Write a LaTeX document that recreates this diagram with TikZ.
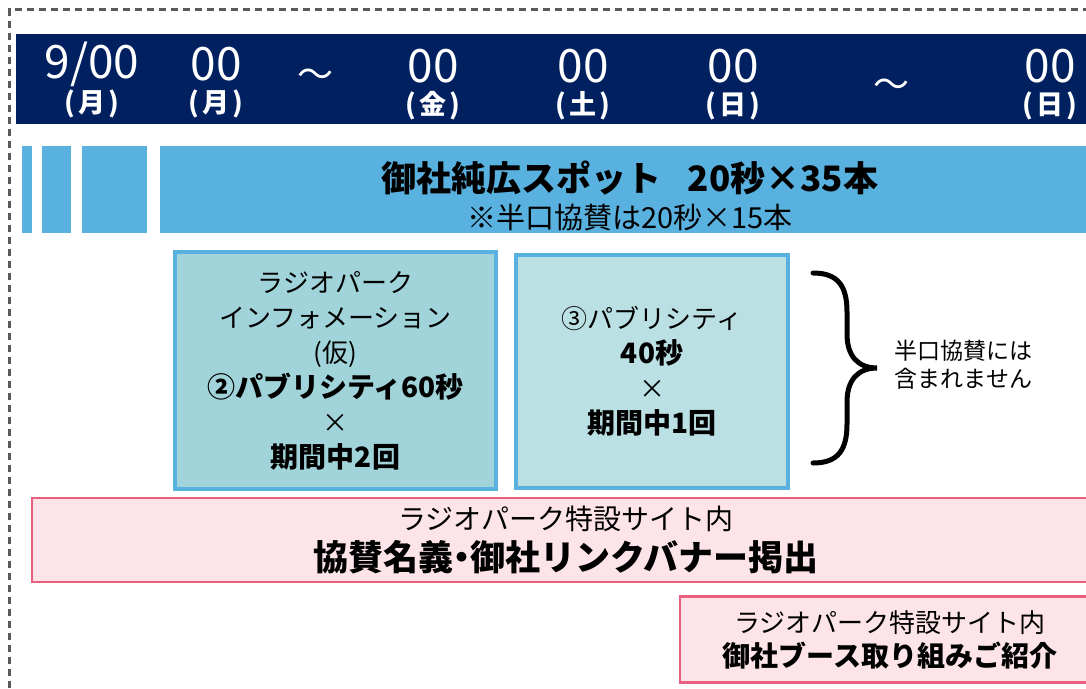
\documentclass[tikz,border=0pt]{standalone}
\usepackage{fontspec}
\setmainfont{Noto Sans CJK JP}
\usetikzlibrary{positioning, calc}
\definecolor{headnavy}{HTML}{002060}
\definecolor{spotblue}{HTML}{58B1DF}
\definecolor{infoteal}{HTML}{A1D4DA}
\definecolor{pubteal}{HTML}{BBE0E4}
\definecolor{sitepink}{HTML}{FCE4E9}
\definecolor{siterose}{HTML}{E8607E}
\definecolor{framegray}{HTML}{5A5A5A}
\newcommand{\wk}[1]{(\kern3pt#1\kern3pt)}

\begin{document}
\begin{tikzpicture}[x=1pt, y=-1pt,
    day/.style={text=white, font=\fontsize{46}{46}\selectfont, inner sep=0pt},
    wday/.style={text=white, font=\bfseries\fontsize{27}{27}\selectfont, inner sep=0pt},
    wave/.style={text=white, font=\fontsize{36}{36}\selectfont, inner sep=0pt},
    bar/.style={rectangle, fill=spotblue, inner sep=0pt, minimum height=87pt},
    pubbox/.style={rectangle, draw=spotblue, line width=4pt, align=center,
      font=\fontsize{26}{35}\selectfont},
    sitebox/.style={rectangle, draw=siterose, fill=sitepink, line width=2.5pt,
      align=center, font=\fontsize{28}{41}\selectfont}]
  \clip (0,0) rectangle (1086,688);

  % frame
  \draw[framegray, line width=2.2pt, dash pattern=on 7pt off 5pt] (9.5,700) |- (1100,9.5);

  % date header
  \node (head) [rectangle, fill=headnavy, minimum width=1084pt, minimum height=90pt,
    inner sep=0pt] at (558,79) {};
  \node (d1) [day] at (92,64) {9/00};
  \node (w1) [wday] at (92,104) {\wk{月}};
  \node (d2) [day] at (216,64) {00};
  \node (w2) [wday] at (216,104) {\wk{月}};
  \node (t1) [wave] at (315,78) {〜};
  \node (d3) [day] at (433,66) {00};
  \node (w3) [wday] at (433,106) {\wk{金}};
  \node (d4) [day] at (583,66) {00};
  \node (w4) [wday] at (583,106) {\wk{土}};
  \node (d5) [day] at (733,66) {00};
  \node (w5) [wday] at (733,106) {\wk{日}};
  \node (t2) [wave] at (891,88) {〜};
  \node (d6) [day] at (1050,66) {00};
  \node (w6) [wday] at (1050,106) {\wk{日}};

  % spot bars
  \node (b1) [bar, minimum width=10pt] at (27,189.5) {};
  \node (b2) [bar, minimum width=29pt] at (56.5,189.5) {};
  \node (b3) [bar, minimum width=65pt] at (114.5,189.5) {};
  \node (spot) [bar, minimum width=940pt] at (630,189.5) {};
  \node (spottxt) [align=center, inner sep=0pt, font=\fontsize{29}{37}\selectfont]
    at (630,196) {{\bfseries\fontsize{35}{37}\selectfont 御社純広スポット\kern26pt 20秒×35本}\\
    ※半口協賛は20秒×15本};

  % publicity boxes
  \node (info) [pubbox, fill=infoteal, minimum width=321pt, minimum height=237pt]
    at (335.5,370.5) {ラジオパーク\\インフォメーション\\(仮)\\
    {\bfseries\fontsize{28}{35}\selectfont ②パブリシティ60秒}\\×\\
    {\bfseries\fontsize{28}{35}\selectfont 期間中2回}};
  \node (pub) [pubbox, fill=pubteal, minimum width=272pt, minimum height=233pt]
    at (652,371.5) {③パブリシティ\\{\bfseries\fontsize{28}{35}\selectfont 40秒}\\×\\
    {\bfseries\fontsize{28}{35}\selectfont 期間中1回}};

  % brace
  \coordinate (bt) at (813,273);
  \coordinate (tip) at (877,368);
  \coordinate (bb) at (813,463);
  \draw[line width=5pt, line cap=round] (bt) .. controls (838,273) and (847,286) .. (847,312)
    -- (847,334) .. controls (847,356) and (858,368) .. (tip)
    .. controls (858,368) and (847,380) .. (847,402) -- (847,424)
    .. controls (847,450) and (838,463) .. (bb);
  \node (half) [right=14pt of tip, align=center, font=\fontsize{23}{28}\selectfont,
    yshift=3pt] {半口協賛には\\含まれません};

  % site boxes
  \node (site) [sitebox, minimum width=1068pt, minimum height=84pt] at (566,540)
    {ラジオパーク特設サイト内\\{\bfseries\fontsize{35}{41}\selectfont
    協賛名義\kern-9pt・\kern-9pt 御社リンクバナー掲出}};
  \node (booth) [sitebox, minimum width=420pt, minimum height=86pt,
    font=\fontsize{26}{34}\selectfont] at (890,639.5)
    {ラジオパーク特設サイト内\\{\bfseries\fontsize{28}{34}\selectfont 御社ブース取り組みご紹介}};
\end{tikzpicture}
\end{document}
